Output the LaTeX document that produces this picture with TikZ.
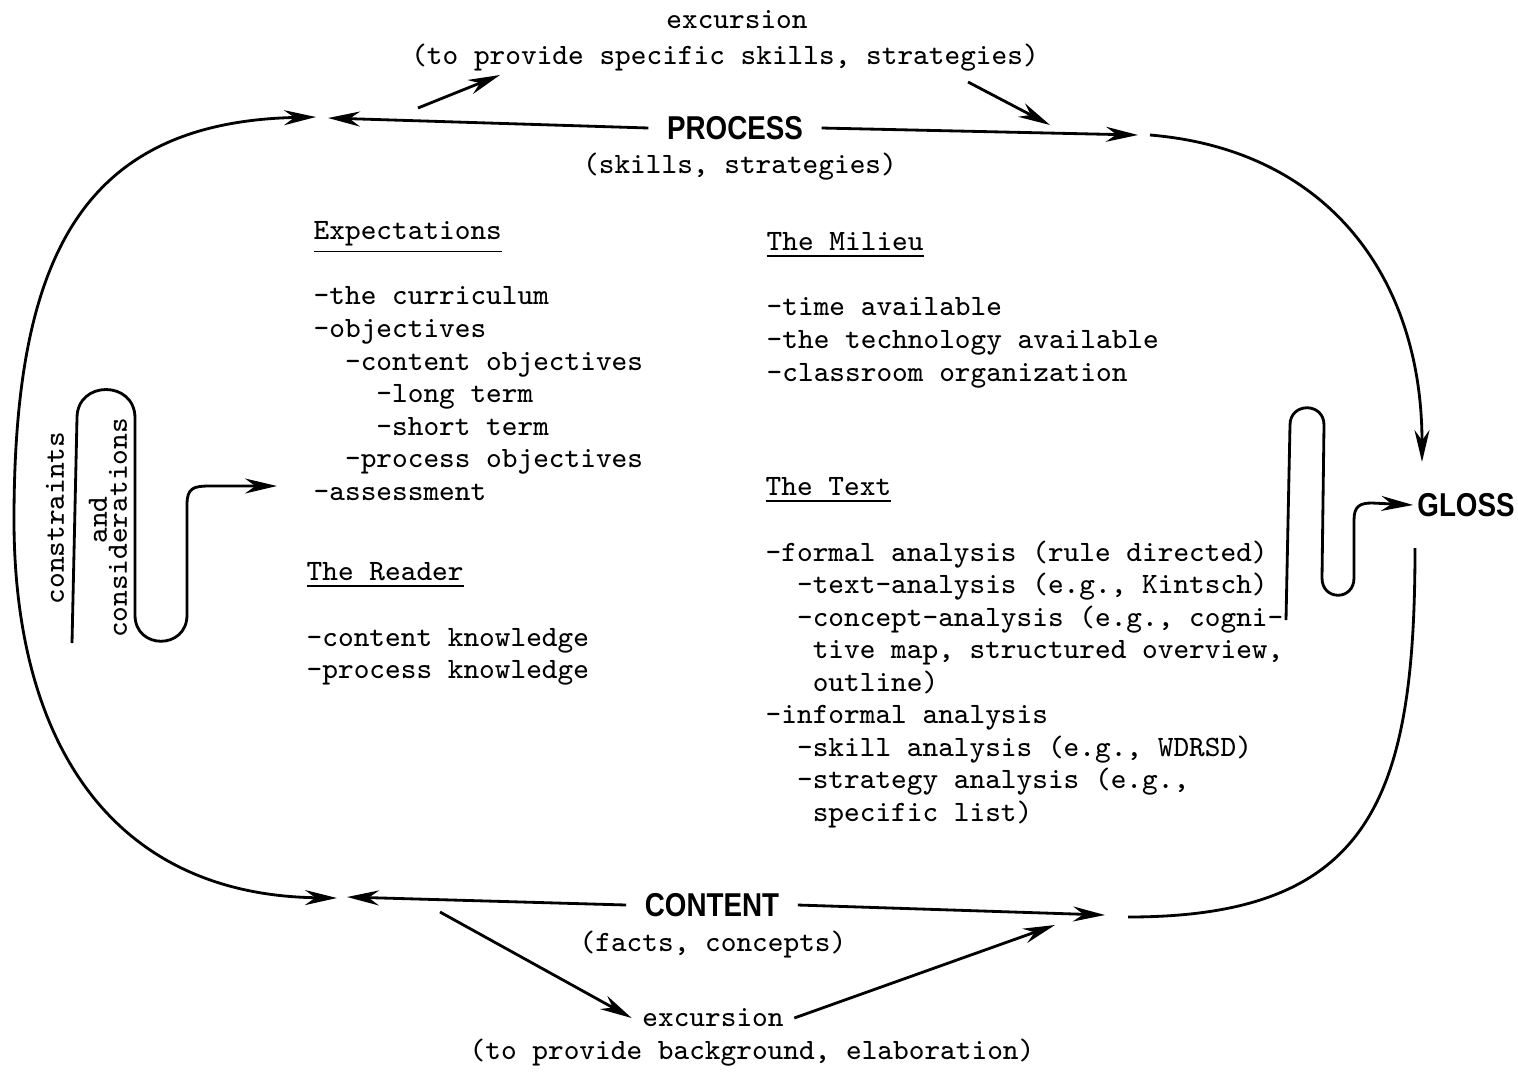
\documentclass[tikz,border=0pt]{standalone}
\usepackage{fontspec}
\usetikzlibrary{arrows.meta}
\newfontfamily\labelfont[FakeStretch=0.84]{Liberation Sans}
\newcommand{\listsize}{\fontsize{8.4pt}{9.25pt}\selectfont}
\newcommand{\labelsize}{\fontsize{9.4pt}{11pt}\selectfont}

\tikzset{
  >={Stealth[length=3.2mm,width=1.5mm]},
  listblock/.style={font=\ttfamily\listsize, align=left, anchor=north west, inner sep=0pt},
  smalltext/.style={font=\ttfamily\listsize, inner sep=1pt},
  bigword/.style={font=\labelfont\labelsize\bfseries, inner xsep=0.18cm, inner ysep=1pt},
  flowline/.style={black, line width=0.8pt},
}

\begin{document}
\begin{tikzpicture}[x=0.01cm,y=-0.01cm]
\useasboundingbox (0,0) rectangle (1518,1072);

% main words
\node[bigword] (process) at (735,128) {PROCESS};
\node[bigword] (content) at (712,905) {CONTENT};
\node[bigword, inner xsep=1pt] (gloss) at (1466,505) {GLOSS};

\node[smalltext] (skills) at (740,167) {(skills, strategies)};
\node[smalltext] (facts) at (713,945) {(facts, concepts)};
\node[smalltext] (exctop) at (737,20) {excursion};
\node[smalltext] (exctopwhy) at (725,58) {(to provide specific skills, strategies)};
\node[smalltext, inner xsep=0.1cm] (excbot) at (713,1018) {excursion};
\node[smalltext] (excbotwhy) at (752,1053) {(to provide background, elaboration)};

% the four lists
\node[listblock] (expect) at (313,221) {\underline{Expectations}\\[9.3pt]
-the curriculum\\
-objectives\\
\phantom{xx}-content objectives\\
\phantom{xxxx}-long term\\
\phantom{xxxx}-short term\\
\phantom{xx}-process objectives\\
-assessment};

\node[listblock] (reader) at (306,562) {\underline{The Reader}\\[9.3pt]
-content knowledge\\
-process knowledge};

\node[listblock] (milieu) at (766,232) {\underline{The Milieu}\\[9.3pt]
-time available\\
-the technology available\\
-classroom organization};

\node[listblock] (textblk) at (765,477) {\underline{The Text}\\[9.3pt]
-formal analysis (rule directed)\\
\phantom{xx}-text-analysis (e.g., Kintsch)\\
\phantom{xx}-concept-analysis (e.g., cogni-\\
\phantom{xxx}tive map, structured overview,\\
\phantom{xxx}outline)\\
-informal analysis\\
\phantom{xx}-skill analysis (e.g., WDRSD)\\
\phantom{xx}-strategy analysis (e.g.,\\
\phantom{xxx}specific list)};

% side words
\node[smalltext, rotate=90] (constr) at (55,518) {constraints};
\node[smalltext, rotate=90] (andword) at (98,520) {and};
\node[smalltext, rotate=90] (consid) at (118,528) {considerations};

% arrow ends
\coordinate (loopTL) at (316,117);
\coordinate (procL) at (328,118);
\coordinate (procR) at (1138,135);
\coordinate (loopTR) at (1150,135);
\coordinate (glossIn) at (1422,462);
\coordinate (glossOut) at (1415,548);
\coordinate (loopBR) at (1128,917);
\coordinate (contR) at (1105,915);
\coordinate (contL) at (347,897);
\coordinate (loopBL) at (337,898);
\coordinate (upA) at (418,108);
\coordinate (upB) at (500,75);
\coordinate (dnA) at (968,82);
\coordinate (dnB) at (1050,125);
\coordinate (bdA) at (440,912);
\coordinate (buB) at (1055,925);
\coordinate (ccStart) at (72,643);
\coordinate (ccTip) at (277,486);
\coordinate (gsStart) at (1286,620);

\draw[flowline,->] (process.west) -- (procL);
\draw[flowline,->] (process.east) -- (procR);
\draw[flowline,->] (content.west) -- (contL);
\draw[flowline,->] (content.east) -- (contR);
\draw[flowline,->] (upA) -- (upB);
\draw[flowline,->] (dnA) -- (dnB);
\draw[flowline,->] (bdA) -- (excbot.west);
\draw[flowline,->] (excbot.east) -- (buB);

% big loop
\draw[flowline,<->] (loopTL) .. controls (80,122) and (14,260) .. (14,520)
  .. controls (14,740) and (110,895) .. (loopBL);
\draw[flowline,->] (loopTR) .. controls (1330,150) and (1422,280) .. (glossIn);
\draw[flowline] (glossOut) .. controls (1415,800) and (1370,917) .. (loopBR);

% the two bends
\draw[flowline,->] (ccStart) -- (77,418) .. controls (77,380) and (135,380) .. (135,418)
  -- (135,615) .. controls (135,650) and (187,650) .. (187,615)
  -- (187,505) .. controls (187,488) and (193,486) .. (210,486) -- (ccTip);
\draw[flowline,->] (gsStart) -- (1290,425) .. controls (1290,402) and (1324,402) .. (1324,425)
  -- (1322,578) .. controls (1322,601) and (1354,601) .. (1354,578)
  -- (1354,520) .. controls (1354,506) and (1360,503) .. (1372,503) -- (gloss.west);

\end{tikzpicture}
\end{document}
